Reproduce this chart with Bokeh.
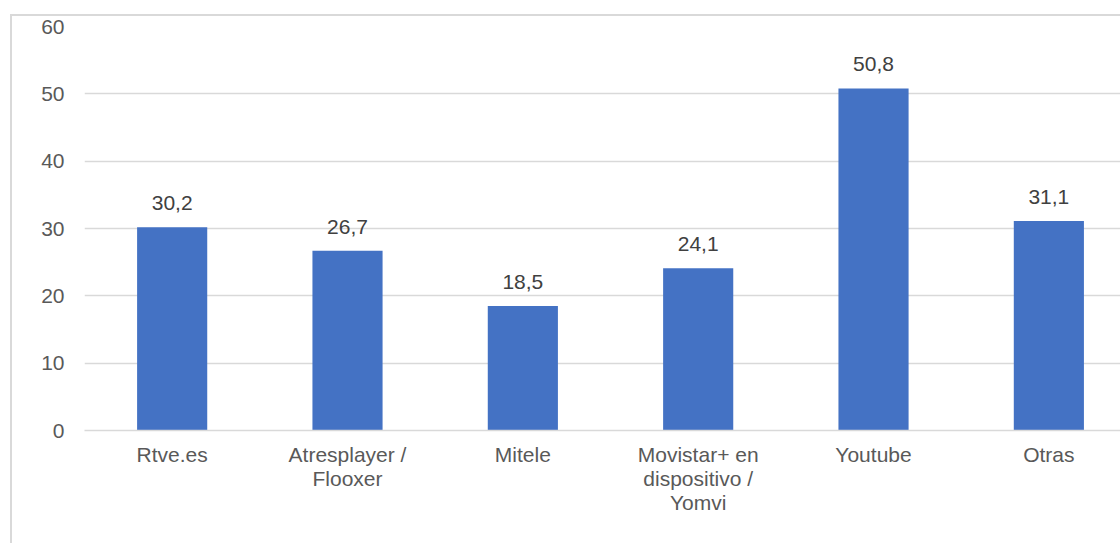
from bokeh.plotting import figure
from bokeh.models import Range1d, FixedTicker, ColumnDataSource
from bokeh.core.properties import value
from bokeh.embed import file_html
from bokeh.resources import INLINE

categories = ["Rtve.es", "Atresplayer /\nFlooxer", "Mitele",
              "Movistar+ en\ndispositivo /\nYomvi", "Youtube", "Otras"]
values = [30.2, 26.7, 18.5, 24.1, 50.8, 31.1]
y_ticks = [0, 10, 20, 30, 40, 50, 60]

FONT = "Liberation Sans"
TXT = "#595959"
GRID = "#d9d9d9"

xs = [i + 0.5 for i in range(len(categories))]
labels = [f"{v:.1f}".replace(".", ",") for v in values]
src = ColumnDataSource(dict(x=xs, top=values, label=labels))

p = figure(width=1110, height=529, output_backend="svg", toolbar_location=None,
           x_range=Range1d(0, 5.92), y_range=Range1d(0, 60),
           min_border_left=72, min_border_top=10, min_border_bottom=115, min_border_right=0)
p.styles = {"margin-left": "10px", "margin-top": "14px",
            "border-left": "2px solid #d9d9d9", "border-top": "2px solid #d9d9d9"}
p.outline_line_color = None
p.background_fill_color = "white"
p.border_fill_color = "white"

p.vbar(x="x", top="top", width=0.4, source=src, fill_color="#4472C4", line_color=None)
p.text(x="x", y="top", text="label", source=src, text_align="center",
       text_baseline="alphabetic", y_offset=-24, text_font=value(FONT),
       text_font_size="21px", text_color="#404040")

p.xgrid.grid_line_color = None
p.ygrid.grid_line_color = GRID
p.ygrid.grid_line_width = 1.5
p.ygrid.ticker = FixedTicker(ticks=y_ticks)

p.yaxis.ticker = FixedTicker(ticks=y_ticks)
p.yaxis.axis_line_color = None
p.yaxis.major_tick_line_color = None
p.yaxis.minor_tick_line_color = None
p.yaxis.major_label_standoff = 14
p.yaxis.major_label_text_font = FONT
p.yaxis.major_label_text_font_size = "21px"
p.yaxis.major_label_text_color = TXT

p.xaxis.ticker = FixedTicker(ticks=xs)
p.xaxis.major_label_overrides = {x: c for x, c in zip(xs, categories)}
p.xaxis.axis_line_color = GRID
p.xaxis.axis_line_width = 1.5
p.xaxis.major_tick_line_color = None
p.xaxis.minor_tick_line_color = None
p.xaxis.major_label_standoff = 6
p.xaxis.major_label_text_font = FONT
p.xaxis.major_label_text_font_size = "21px"
p.xaxis.major_label_text_line_height = 1.05
p.xaxis.major_label_text_color = TXT

open("out.html", "w").write(file_html(p, INLINE))
